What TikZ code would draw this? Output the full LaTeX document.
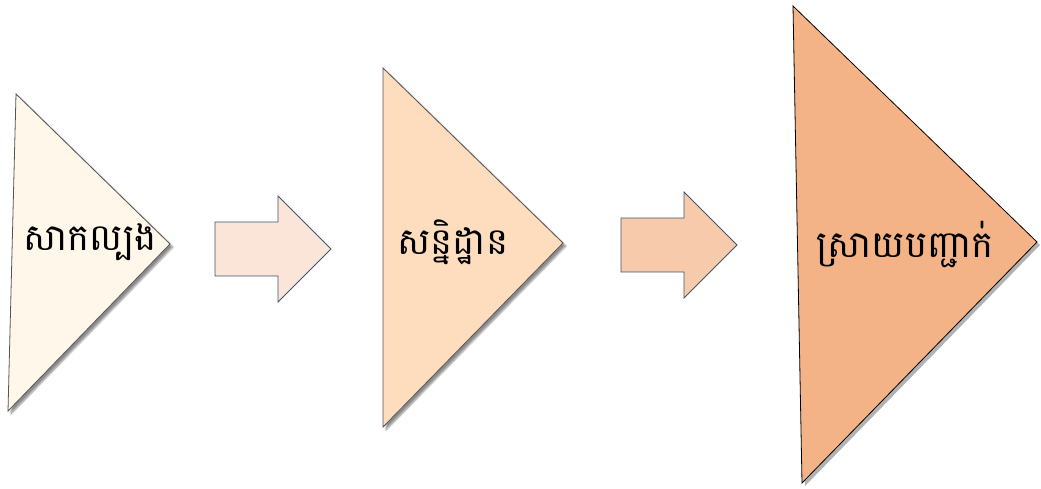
\documentclass[tikz,border=0pt]{standalone}
\usepackage{fontspec}
\newfontfamily\khmerfont[Script=Khmer]{Battambang}
\usetikzlibrary{shadows.blur}
\definecolor{stepA}{HTML}{FFF7E9}
\definecolor{stepB}{HTML}{FEDCBE}
\definecolor{stepC}{HTML}{F3B386}
\definecolor{arrA}{HTML}{FAE5D8}
\definecolor{arrB}{HTML}{F7CAAB}
\definecolor{arrline}{HTML}{44546A}
\definecolor{triline}{HTML}{555555}
\tikzset{
  stage/.style={draw=triline, line width=0.8pt, line join=miter},
  softshadow/.style={blur shadow={shadow xshift=3pt, shadow yshift=-3pt, shadow blur steps=6, shadow opacity=45}},
  blockarrow/.style={draw=arrline, line width=0.8pt},
  label/.style={font=\khmerfont\fontsize{37}{42}\selectfont, text=black, inner sep=0pt}
}
\begin{document}
\begin{tikzpicture}[x=1pt, y=-1pt]
\useasboundingbox (0,0) rectangle (1041,488);
% first stage
\path[stage, fill=stepA, softshadow] (16,94) -- (170,244) -- (8,411) -- cycle;
\node[label] (s1) at (90,242) {សាកល្បង};
% first block arrow
\path[blockarrow, fill=arrA] (215,222) -- (278,222) -- (278,196) -- (331,249) -- (278,302) -- (278,276) -- (215,276) -- cycle;
% second stage
\path[stage, fill=stepB, softshadow] (383,68) -- (563,243) -- (383,427) -- cycle;
\node[label] (s2) at (453,242) {សន្និដ្ឋាន};
% second block arrow
\path[blockarrow, fill=arrB] (621,218) -- (684,218) -- (684,192) -- (737,245) -- (684,298) -- (684,272) -- (621,272) -- cycle;
% third stage with its hard grey offset edge
\path[fill=black!30] (796,9) -- (1040,245) -- (805,486) -- cycle;
\path[stage, draw=black, fill=stepC] (793,6) -- (1037,242) -- (802,483) -- cycle;
\node[label] (s3) at (905,244) {ស្រាយបញ្ជាក់};
\end{tikzpicture}
\end{document}
